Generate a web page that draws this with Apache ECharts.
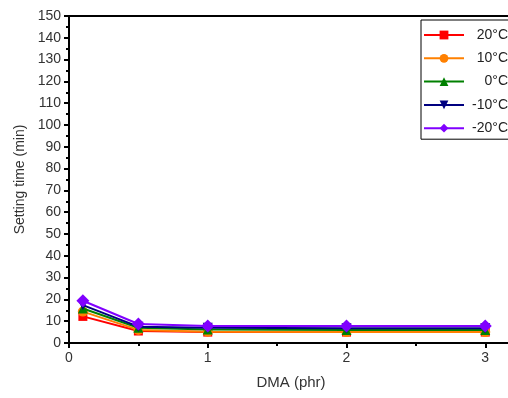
<!DOCTYPE html>
<html>
<head>
<meta charset="utf-8">
<script src="https://cdn.jsdelivr.net/npm/echarts@6/dist/echarts.min.js"></script>
<style>
  html, body { margin: 0; padding: 0; background: #fff; }
  #chart { width: 508px; height: 398px; }
</style>
</head>
<body>
<div id="chart"></div>
<script>
// DMA content (phr)
const dma = [0.1, 0.5, 1, 2, 3];

const seriesNames = ["20°C", "10°C", "0°C", "-10°C", "-20°C"];
const t20 = [12.2, 5.5, 5.0, 5.0, 5.0];
const t10 = [14.4, 6.0, 5.2, 5.0, 5.0];
const t0 = [15.8, 7.0, 6.2, 6.0, 6.0];
const tm10 = [17.4, 7.5, 7.0, 6.8, 6.8];
const tm20 = [19.4, 8.7, 7.8, 7.8, 7.8];

const yTicks = [0, 10, 20, 30, 40, 50, 60, 70, 80, 90, 100, 110, 120, 130, 140, 150];
const xTicks = [0, 1, 2, 3];

const values = [t20, t10, t0, tm10, tm20];
const colors = ["#ff0000", "#ff8000", "#008000", "#000080", "#8000ff"];
const symbols = ["rect", "circle", "triangle", "triangle", "diamond"];
const rotations = [0, 0, 0, 180, 0];
const sizes = [9, 10, 10, 10, 13];

const chart = echarts.init(document.getElementById("chart"));

const font = "Liberation Sans, Arial, sans-serif";
const axisFont = { fontFamily: font, fontSize: 14, color: "#333" };

chart.setOption({
  backgroundColor: "#fff",
  animation: false,
  grid: {
    left: 69,
    top: 16,
    height: 327,
    width: 444,
    outerBoundsMode: "none",
    containLabel: false,
    show: true,
    borderColor: "#000",
    borderWidth: 2,
  },
  legend: {
    orient: "vertical",
    left: 421,
    top: 20,
    padding: [8, 2, 4, 2],
    itemGap: 9.3,
    itemWidth: 40,
    itemHeight: 11,
    borderColor: "#000",
    borderWidth: 1,
    backgroundColor: "#fff",
    data: seriesNames,
    formatter: (n) => `{a|${n}}`,
    textStyle: {
      fontFamily: font,
      fontSize: 14,
      color: "#222",
      rich: { a: { width: 39, height: 14, align: "right", fontSize: 14, fontFamily: font, color: "#222" } },
    },
  },
  xAxis: {
    type: "value",
    min: 0,
    max: 3.2,
    interval: 1,
    name: "DMA (phr)",
    nameLocation: "middle",
    nameGap: 32,
    nameTextStyle: { fontFamily: font, fontSize: 15, color: "#333" },
    axisLine: { show: true, lineStyle: { color: "#000", width: 2 } },
    axisTick: { show: true, length: 5, lineStyle: { color: "#000", width: 2 } },
    minorTick: { show: true, splitNumber: 2, length: 3, lineStyle: { color: "#000", width: 2 } },
    splitLine: { show: false },
    axisLabel: Object.assign({ margin: 8, customValues: xTicks }, axisFont),
  },
  yAxis: {
    type: "value",
    min: 0,
    max: 150,
    interval: 10,
    name: "Setting time (min)",
    nameLocation: "middle",
    nameGap: 42,
    nameTextStyle: { fontFamily: font, fontSize: 14, color: "#333" },
    axisLine: { show: true, lineStyle: { color: "#000", width: 2 } },
    axisTick: { show: true, length: 5, lineStyle: { color: "#000", width: 2 } },
    minorTick: { show: true, splitNumber: 2, length: 3, lineStyle: { color: "#000", width: 2 } },
    splitLine: { show: false },
    axisLabel: Object.assign({ margin: 8, customValues: yTicks }, axisFont),
  },
  series: seriesNames.map((name, i) => ({
    name,
    type: "line",
    data: dma.map((x, j) => [x, values[i][j]]),
    symbol: symbols[i],
    symbolSize: sizes[i],
    symbolRotate: rotations[i],
    lineStyle: { color: colors[i], width: 2 },
    itemStyle: { color: colors[i] },
    color: colors[i],
    z: 2 + i,
  })),
});
</script>
</body>
</html>
